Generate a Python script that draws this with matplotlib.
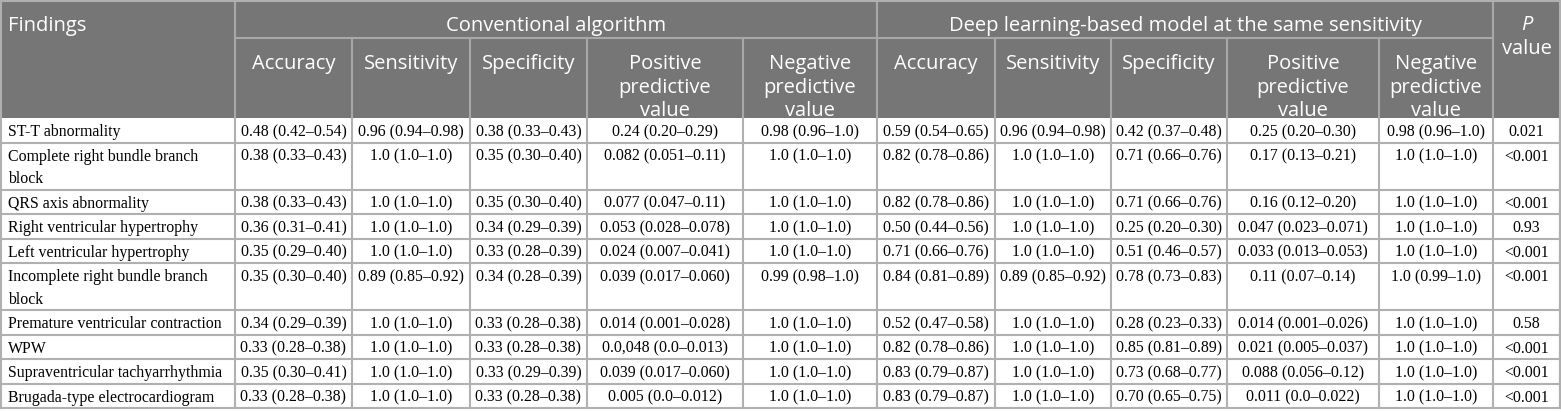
import matplotlib
matplotlib.use("Agg")
import matplotlib.pyplot as plt
from matplotlib.patches import Rectangle

# ---------------- data ----------------
findings = [
    "ST-T abnormality",
    "Complete right bundle branch block",
    "QRS axis abnormality",
    "Right ventricular hypertrophy",
    "Left ventricular hypertrophy",
    "Incomplete right bundle branch block",
    "Premature ventricular contraction",
    "WPW",
    "Supraventricular tachyarrhythmia",
    "Brugada-type electrocardiogram",
]
group_labels = ["Conventional algorithm", "Deep learning-based model at the same sensitivity"]
metric_labels = ["Accuracy", "Sensitivity", "Specificity",
                 "Positive predictive value", "Negative predictive value"]
first_header = "Findings"
p_header = ("P", "value")

conv_acc = ["0.48 (0.42–0.54)", "0.38 (0.33–0.43)", "0.38 (0.33–0.43)", "0.36 (0.31–0.41)",
            "0.35 (0.29–0.40)", "0.35 (0.30–0.40)", "0.34 (0.29–0.39)", "0.33 (0.28–0.38)",
            "0.35 (0.30–0.41)", "0.33 (0.28–0.38)"]
conv_sens = ["0.96 (0.94–0.98)", "1.0 (1.0–1.0)", "1.0 (1.0–1.0)", "1.0 (1.0–1.0)",
             "1.0 (1.0–1.0)", "0.89 (0.85–0.92)", "1.0 (1.0–1.0)", "1.0 (1.0–1.0)",
             "1.0 (1.0–1.0)", "1.0 (1.0–1.0)"]
conv_spec = ["0.38 (0.33–0.43)", "0.35 (0.30–0.40)", "0.35 (0.30–0.40)", "0.34 (0.29–0.39)",
             "0.33 (0.28–0.39)", "0.34 (0.28–0.39)", "0.33 (0.28–0.38)", "0.33 (0.28–0.38)",
             "0.33 (0.29–0.39)", "0.33 (0.28–0.38)"]
conv_ppv = ["0.24 (0.20–0.29)", "0.082 (0.051–0.11)", "0.077 (0.047–0.11)", "0.053 (0.028–0.078)",
            "0.024 (0.007–0.041)", "0.039 (0.017–0.060)", "0.014 (0.001–0.028)", "0.0,048 (0.0–0.013)",
            "0.039 (0.017–0.060)", "0.005 (0.0–0.012)"]
conv_npv = ["0.98 (0.96–1.0)", "1.0 (1.0–1.0)", "1.0 (1.0–1.0)", "1.0 (1.0–1.0)",
            "1.0 (1.0–1.0)", "0.99 (0.98–1.0)", "1.0 (1.0–1.0)", "1.0 (1.0–1.0)",
            "1.0 (1.0–1.0)", "1.0 (1.0–1.0)"]
dl_acc = ["0.59 (0.54–0.65)", "0.82 (0.78–0.86)", "0.82 (0.78–0.86)", "0.50 (0.44–0.56)",
          "0.71 (0.66–0.76)", "0.84 (0.81–0.89)", "0.52 (0.47–0.58)", "0.82 (0.78–0.86)",
          "0.83 (0.79–0.87)", "0.83 (0.79–0.87)"]
dl_sens = ["0.96 (0.94–0.98)", "1.0 (1.0–1.0)", "1.0 (1.0–1.0)", "1.0 (1.0–1.0)",
           "1.0 (1.0–1.0)", "0.89 (0.85–0.92)", "1.0 (1.0–1.0)", "1.0 (1.0–1.0)",
           "1.0 (1.0–1.0)", "1.0 (1.0–1.0)"]
dl_spec = ["0.42 (0.37–0.48)", "0.71 (0.66–0.76)", "0.71 (0.66–0.76)", "0.25 (0.20–0.30)",
           "0.51 (0.46–0.57)", "0.78 (0.73–0.83)", "0.28 (0.23–0.33)", "0.85 (0.81–0.89)",
           "0.73 (0.68–0.77)", "0.70 (0.65–0.75)"]
dl_ppv = ["0.25 (0.20–0.30)", "0.17 (0.13–0.21)", "0.16 (0.12–0.20)", "0.047 (0.023–0.071)",
          "0.033 (0.013–0.053)", "0.11 (0.07–0.14)", "0.014 (0.001–0.026)", "0.021 (0.005–0.037)",
          "0.088 (0.056–0.12)", "0.011 (0.0–0.022)"]
dl_npv = ["0.98 (0.96–1.0)", "1.0 (1.0–1.0)", "1.0 (1.0–1.0)", "1.0 (1.0–1.0)",
          "1.0 (1.0–1.0)", "1.0 (0.99–1.0)", "1.0 (1.0–1.0)", "1.0 (1.0–1.0)",
          "1.0 (1.0–1.0)", "1.0 (1.0–1.0)"]
p_values = ["0.021", "<0.001", "<0.001", "0.93", "<0.001", "<0.001", "0.58", "<0.001",
            "<0.001", "<0.001"]

value_columns = [conv_acc, conv_sens, conv_spec, conv_ppv, conv_npv,
                 dl_acc, dl_sens, dl_spec, dl_ppv, dl_npv, p_values]

# ---------------- layout / style ----------------
W, H = 1561, 412
col_edges = [0, 235, 352, 470, 587, 743, 877, 995, 1111, 1227, 1379, 1493, 1560]
hdr_row1 = (0, 38)
hdr_row2 = (38, 118)
single_h = 24.5
line_step = 22.5
header_bg = "#767676"
header_line = "#a8a8a8"
grid_col = "#b0b0b0"
lw = 1.5
hdr_font = ["Open Sans", "DejaVu Sans"]
hdr_size = 14.5
cell_font = ["Liberation Serif", "DejaVu Serif"]
cell_size = 11.4
pad_left = 8

fig = plt.figure(figsize=(W / 100, H / 100), dpi=100)
ax = fig.add_axes([0, 0, 1, 1])
ax.set_xlim(0, W)
ax.set_ylim(H, 0)
ax.axis("off")
renderer = fig.canvas.get_renderer()


def text_width(s, family, size, style="normal"):
    t = ax.text(0, 0, s, fontfamily=family, fontsize=size, fontstyle=style)
    w = t.get_window_extent(renderer=renderer).width
    t.remove()
    return w


def wrap(s, maxw, family, size):
    words = s.split()
    lines, cur = [], ""
    for w in words:
        trial = (cur + " " + w).strip()
        if cur and text_width(trial, family, size) > maxw:
            lines.append(cur)
            cur = w
        else:
            cur = trial
    lines.append(cur)
    return lines


# ---------------- header ----------------
ax.add_patch(Rectangle((0, 0), W, hdr_row2[1], facecolor=header_bg, edgecolor="none", zorder=0))
base_off = 31
ax.text(pad_left, hdr_row1[0] + base_off, first_header, color="white", fontfamily=hdr_font,
        fontsize=hdr_size, ha="left", va="baseline")
group_spans = [(col_edges[1], col_edges[6]), (col_edges[6], col_edges[11])]
for lab, (x0, x1) in zip(group_labels, group_spans):
    ax.text((x0 + x1) / 2, hdr_row1[0] + base_off, lab, color="white", fontfamily=hdr_font,
            fontsize=hdr_size, ha="center", va="baseline")
pc = (col_edges[11] + col_edges[12]) / 2
ax.text(pc, hdr_row1[0] + base_off - 1, p_header[0], color="white", fontfamily=hdr_font,
        fontsize=hdr_size, fontstyle="italic", ha="center", va="baseline")
ax.text(pc, hdr_row1[0] + base_off - 1 + 24, p_header[1], color="white", fontfamily=hdr_font,
        fontsize=hdr_size, ha="center", va="baseline")
for g in range(2):
    for m, lab in enumerate(metric_labels):
        ci = 1 + g * 5 + m
        x0, x1 = col_edges[ci], col_edges[ci + 1]
        lines = wrap(lab, x1 - x0 - 12, hdr_font, hdr_size)
        for li, ln in enumerate(lines):
            ax.text((x0 + x1) / 2, hdr_row2[0] + base_off + li * 23.5, ln, color="white",
                    fontfamily=hdr_font, fontsize=hdr_size, ha="center", va="baseline")

# header lines
for x in (col_edges[1], col_edges[6], col_edges[11]):
    ax.plot([x, x], [0, hdr_row2[1]], color=header_line, lw=lw, zorder=2)
ax.plot([col_edges[1], col_edges[11]], [hdr_row1[1], hdr_row1[1]], color=header_line, lw=lw, zorder=2)
for x in col_edges[2:11]:
    if x == col_edges[6]:
        continue
    ax.plot([x, x], [hdr_row2[0], hdr_row2[1]], color=header_line, lw=lw, zorder=2)

# ---------------- body ----------------
y = hdr_row2[1]
row_tops = []
for i, name in enumerate(findings):
    name_lines = wrap(name, col_edges[1] - col_edges[0] - pad_left - 4, cell_font, cell_size)
    n = len(name_lines)
    h = single_h + (n - 1) * line_step
    row_tops.append(y)
    ty = y + single_h / 2
    for li, ln in enumerate(name_lines):
        ax.text(pad_left, ty + li * line_step, ln, fontfamily=cell_font, fontsize=cell_size,
                ha="left", va="center_baseline", color="black")
    for ci, col in enumerate(value_columns):
        x0, x1 = col_edges[ci + 1], col_edges[ci + 2]
        ax.text((x0 + x1) / 2, ty, col[i], fontfamily=cell_font, fontsize=cell_size,
                ha="center", va="center_baseline", color="black")
    y += h
bottom = y

for yy in row_tops[1:] + [bottom]:
    ax.plot([0, col_edges[-1]], [yy, yy], color=grid_col, lw=lw, zorder=2)
for x in col_edges:
    ax.plot([x, x], [hdr_row2[1], bottom], color=grid_col, lw=lw, zorder=2)
# outer border of header
ax.plot([0, col_edges[-1]], [0.5, 0.5], color=grid_col, lw=lw, zorder=2)
ax.plot([0.7, 0.7], [0, bottom], color=grid_col, lw=lw, zorder=2)
ax.plot([col_edges[-1], col_edges[-1]], [0, bottom], color=grid_col, lw=lw, zorder=2)

fig.savefig("out.png", dpi=100, facecolor="white")
